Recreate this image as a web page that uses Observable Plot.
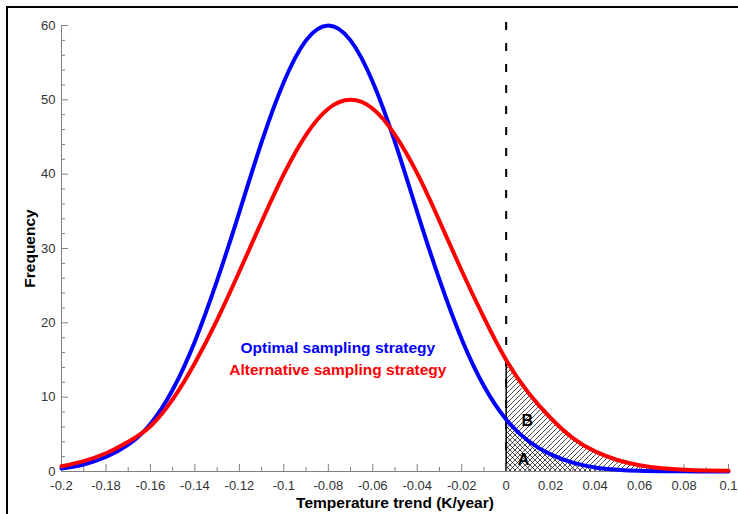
<!DOCTYPE html>
<html><head><meta charset="utf-8">
<script src="https://cdn.jsdelivr.net/npm/d3@7"></script>
<script src="https://cdn.jsdelivr.net/npm/@observablehq/plot@0.6"></script>
<style>
body{margin:0;background:#fff;}
#wrap{position:relative;width:738px;height:514px;overflow:hidden;font-family:"Liberation Sans",Arial,sans-serif;}
#chart{position:absolute;left:0;top:0;}
#frame{position:absolute;left:6px;top:6px;width:800px;height:600px;border-top:2px solid #000;border-left:2px solid #000;pointer-events:none;}
</style></head><body>
<div id="wrap">
<svg width="0" height="0" style="position:absolute">
  <defs>
    <pattern id="diagB" patternUnits="userSpaceOnUse" width="5" height="5">
      <path d="M0,5 L5,0 M-1,1 L1,-1 M4,6 L6,4" stroke="#000" stroke-width="0.7"/>
    </pattern>
    <pattern id="crossA" patternUnits="userSpaceOnUse" width="5" height="5">
      <path d="M0,5 L5,0 M-1,1 L1,-1 M4,6 L6,4 M0,0 L5,5 M-1,4 L1,6 M4,-1 L6,1" stroke="#000" stroke-width="0.7"/>
    </pattern>
  </defs>
</svg>
<div id="chart"></div><div id="frame"></div></div>
<script>
// Temperature trend (K/year)
const xs = [-0.20,-0.19,-0.18,-0.17,-0.16,-0.15,-0.14,-0.13,-0.12,-0.11,-0.10,-0.09,-0.08,-0.07,-0.06,-0.05,-0.04,-0.03,-0.02,-0.01,0.00,0.01,0.02,0.03,0.04,0.05,0.06,0.07,0.08,0.09,0.10];
// Optimal sampling strategy (blue)
const blue = [0.4,0.95,1.95,3.6,6.4,11.0,17.5,25.7,34.9,44.3,52.4,58.0,60.0,58.0,52.4,44.3,34.9,25.8,17.8,11.5,7.0,4.1,2.3,1.2,0.55,0.25,0.1,0.04,0.02,0.01,0.0];
// Alternative sampling strategy (red)
const red = [0.7,1.4,2.45,4.0,6.1,9.7,14.6,20.4,26.9,33.6,40.0,45.3,48.8,50.0,48.8,45.3,40.1,33.7,27.0,20.7,15.0,10.6,7.2,4.5,2.7,1.55,0.85,0.45,0.25,0.15,0.1];

const xTicks = [-0.2,-0.18,-0.16,-0.14,-0.12,-0.1,-0.08,-0.06,-0.04,-0.02,0,0.02,0.04,0.06,0.08,0.1];
const xTickLabels = ["-0.2","-0.18","-0.16","-0.14","-0.12","-0.1","-0.08","-0.06","-0.04","-0.02","0","0.02","0.04","0.06","0.08","0.1"];
const xMinorTicks = [-0.19,-0.17,-0.15,-0.13,-0.11,-0.09,-0.07,-0.05,-0.03,-0.01,0.01,0.03,0.05,0.07,0.09];
const yTicks = [0,10,20,30,40,50,60];
const yTickLabels = ["0","10","20","30","40","50","60"];
const yMinorTicks = [2,4,6,8,12,14,16,18,22,24,26,28,32,34,36,38,42,44,46,48,52,54,56,58];

const legendTexts = ["Optimal sampling strategy","Alternative sampling strategy"];
const legendColors = ["#0000ff","#ff0000"];
const legendX = [-0.0757,-0.0757];
const legendY = [16.6,13.6];
const regionTexts = ["A","B"];
const regionX = [0.0078,0.0095];
const regionY = [1.6,6.75];

const rows = xs.map((x,i)=>({x, blue: blue[i], red: red[i]}));
const legend = legendTexts.map((t,i)=>({t, x: legendX[i], y: legendY[i], c: legendColors[i]}));
const regions = regionTexts.map((t,i)=>({t, x: regionX[i], y: regionY[i]}));
const zeroRow = rows.filter(d => d.x === 0);

const W = 738, H = 514, mL = 61, mR = 10, mT = 25, mB = 43;
const fw = W - mL - mR, fh = H - mT - mB;
const axisColor = "#808080";

const chart = Plot.plot({
  width: W, height: H,
  marginLeft: mL, marginRight: mR, marginTop: mT, marginBottom: mB,
  style: {fontFamily: "'Liberation Sans', Arial, sans-serif", background: "transparent"},
  x: {domain: [-0.2, 0.1]},
  y: {domain: [0, 60]},
  marks: [
    Plot.areaY(rows, {x: "x", y1: 0, y2: "blue", fill: "url(#crossA)", curve: "natural"}),
    Plot.areaY(rows, {x: "x", y1: "blue", y2: "red", fill: "url(#diagB)", curve: "natural"}),
    Plot.ruleX(zeroRow, {x: "x", y1: 0, y2: "red", stroke: "#000", strokeWidth: 1.5}),
    Plot.ruleX([0], {stroke: "#000", strokeWidth: 2, strokeDasharray: "8,13", insetTop: -3}),
    // axes lines
    Plot.ruleX([-0.2], {stroke: axisColor, strokeWidth: 1}),
    Plot.ruleY([0], {stroke: axisColor, strokeWidth: 1}),
    // ticks
    Plot.tickY(yTicks, {y: d => d, stroke: axisColor, insetRight: fw - 7}),
    Plot.tickY(yMinorTicks, {y: d => d, stroke: axisColor, insetRight: fw - 4}),
    Plot.tickX(xTicks, {x: d => d, stroke: axisColor, insetTop: fh - 7}),
    Plot.tickX(xMinorTicks, {x: d => d, stroke: axisColor, insetTop: fh - 4}),
    Plot.axisY({ticks: yTicks, tickFormat: (d) => yTickLabels[yTicks.indexOf(d)], tickSize: 0, tickPadding: 6, fontSize: 13, color: "#333", label: null}),
    Plot.axisX({ticks: xTicks, tickFormat: (d) => xTickLabels[xTicks.findIndex(v => Math.abs(v - d) < 1e-9)], tickSize: 0, tickPadding: 9, fontSize: 13, color: "#333", label: null}),
    // curves
    Plot.lineY(rows, {x: "x", y: "blue", stroke: "#0000ff", strokeWidth: 4, curve: "natural"}),
    Plot.lineY(rows, {x: "x", y: "red", stroke: "#ff0000", strokeWidth: 4, curve: "natural"}),
    // annotations
    Plot.text(legend, {x: "x", y: "y", text: "t", fill: "c", fontSize: 15.5, fontWeight: "bold"}),
    Plot.text(regions, {x: "x", y: "y", text: "t", fill: "#000", fontSize: 16, fontWeight: "bold"}),
    Plot.text(["Frequency"], {frameAnchor: "left", dx: -31, rotate: -90, textAnchor: "middle", lineAnchor: "middle", fontSize: 15.5, fontWeight: "bold", fill: "#000"}),
    Plot.text(["Temperature trend (K/year)"], {frameAnchor: "bottom", dy: 32, textAnchor: "middle", lineAnchor: "middle", fontSize: 15.5, fontWeight: "bold", fill: "#000"})
  ]
});

// clip the hatched areas to x >= 0
const x0 = chart.scale("x").apply(0);
const ns = "http://www.w3.org/2000/svg";
const defs = document.createElementNS(ns, "defs");
const cp = document.createElementNS(ns, "clipPath");
cp.setAttribute("id", "clipRight");
const rect = document.createElementNS(ns, "rect");
rect.setAttribute("x", x0); rect.setAttribute("y", 0);
rect.setAttribute("width", W); rect.setAttribute("height", H);
cp.appendChild(rect); defs.appendChild(cp);
chart.insertBefore(defs, chart.firstChild);
chart.querySelectorAll('g[aria-label="area"]').forEach(g => g.setAttribute("clip-path", "url(#clipRight)"));

document.getElementById("chart").appendChild(chart);
</script>
</body></html>
